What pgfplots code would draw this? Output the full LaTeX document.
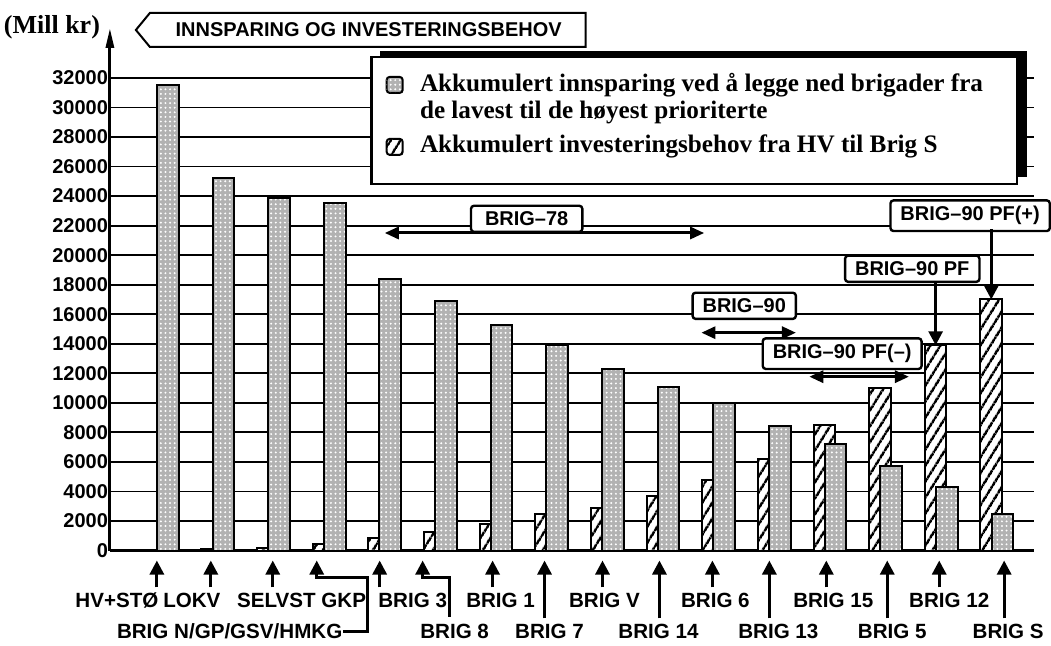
\documentclass[border=0pt]{standalone}
\usepackage{fontspec}
\setmainfont{Liberation Serif}
\setsansfont{Liberation Sans}
\usepackage{pgfplots}
\pgfplotsset{compat=1.18}
\usetikzlibrary{patterns.meta, arrows.meta}

\tikzset{
  lbl/.style={font=\sffamily\bfseries\fontsize{10.3}{12}\selectfont, inner sep=0pt},
  tag/.style={draw, line width=1.2pt, fill=white, rounded corners=1.5pt,
    font=\sffamily\bfseries\fontsize{10}{12}\selectfont, inner xsep=5pt, inner ysep=3pt},
  arr/.style={line width=1.5pt, -{Triangle[length=7pt, width=7pt]}},
  darr/.style={line width=1.5pt, {Triangle[length=7pt, width=6pt]}-{Triangle[length=7pt, width=6pt]}},
  hatchfill/.style={fill=white, postaction={pattern={Lines[angle=58, distance=4pt, line width=1.3pt]}}},
  dotfill/.style={fill=gray!60, postaction={pattern={Dots[distance=2.3pt, radius=0.55pt]}, pattern color=white}},
  px/.style={x=0.5pt, y=0.5pt, shift={(-55pt,275.5pt)}},
}

\begin{document}
\begin{tikzpicture}
\begin{scope}[px]
\path (0,0) rectangle (1051,-646);
\end{scope}

\begin{axis}[
  at={(0pt,0pt)}, anchor=south west, scale only axis,
  width=462.5pt, height=236.5pt,
  xmin=-0.94, xmax=15.67, ymin=0, ymax=32000,
  axis x line*=bottom, axis y line*=left,
  axis line style={line width=1.5pt},
  xtick=\empty,
  ytick={0,2000,...,32000},
  ymajorgrids, major grid style={black, line width=0.9pt},
  major tick length=0pt,
  scaled y ticks=false,
  yticklabel style={font=\sffamily\bfseries\fontsize{10}{12}\selectfont, inner sep=0pt, xshift=-0.8pt},
  /pgf/number format/assume math mode=true,
  /pgf/number format/1000 sep={},
  clip=false,
]
% akkumulert investeringsbehov (skravert)
\addplot[ybar, bar shift=0pt, bar width=0.39, draw=black, line width=1pt, hatchfill]
coordinates {(-0.1,50) (0.9,100) (1.9,200) (2.9,450) (3.9,850) (4.9,1250) (5.9,1800) (6.9,2450)
  (7.9,2900) (8.9,3700) (9.9,4800) (10.9,6200) (11.9,8500) (12.9,11000) (13.9,13900) (14.9,17000)};
% akkumulert innsparing (prikket)
\addplot[ybar, bar shift=0pt, bar width=0.39, draw=black, line width=1pt, dotfill]
coordinates {(0.1,31500) (1.1,25200) (2.1,23900) (3.1,23500) (4.1,18400) (5.1,16900) (6.1,15300) (7.1,13900)
  (8.1,12300) (9.1,11100) (10.1,10000) (11.1,8400) (12.1,7200) (13.1,5700) (14.1,4300) (15.1,2500)};

% brigadegrupper
\draw[darr] (axis cs:4.0,21500) -- (axis cs:9.74,21500);
\node[tag, inner xsep=7pt] at (axis cs:6.55,22460) {BRIG–78};
\draw[darr] (axis cs:9.69,14750) -- (axis cs:11.39,14750);
\node[tag] at (axis cs:10.46,16570) {BRIG–90};
\draw[darr] (axis cs:11.63,11770) -- (axis cs:13.42,11770);
\node[tag] at (axis cs:12.22,13330) {BRIG–90 PF(–)};
\node[tag] at (axis cs:13.48,19080) {BRIG–90 PF};
\draw[arr] (axis cs:13.9,18150) -- (axis cs:13.9,13900);
\node[tag] at (axis cs:14.52,22670) {BRIG–90 PF(+)};
\draw[arr] (axis cs:14.9,21740) -- (axis cs:14.9,17000);
\end{axis}

\begin{scope}[px]
% y-akse med pil
\draw[line width=1.5pt, -{Triangle[length=10pt, width=4pt]}] (110,-400) -- (110,-28);
\node[font=\bfseries\fontsize{13}{15}\selectfont, inner sep=0pt] at (52,-27) {(Mill kr)};

% tittel
\draw[line width=1pt, fill=white] (150,-13) -- (586,-13) -- (586,-47) -- (150,-47) -- (136,-30) -- cycle;
\node[font=\sffamily\bfseries\fontsize{10}{12}\selectfont, inner sep=0pt] at (369,-30) {INNSPARING OG INVESTERINGSBEHOV};

% forklaring
\fill[black] (380,-51) rectangle (1028,-177);
\draw[line width=1.2pt, fill=white] (372,-57) rectangle (1018,-184);
\draw[line width=1pt, rounded corners=1.5pt, dotfill] (387,-77) rectangle (403,-93);
\draw[line width=1pt, rounded corners=1.5pt, hatchfill] (387,-139) rectangle (403,-155);
\begin{scope}[every node/.style={font=\bfseries\fontsize{12.6}{14}\selectfont, inner sep=0pt, anchor=west}]
\node at (420,-85) {Akkumulert innsparing ved å legge ned brigader fra};
\node at (420,-113) {de lavest til de høyest prioriterte};
\node at (420,-147) {Akkumulert investeringsbehov fra HV til Brig S};
\end{scope}

% piler under aksen
\foreach \x in {157,211,273,380,493,603,713,827,940} \draw[arr] (\x,-588) -- (\x,-561);
\foreach \x in {545,660,770,888,1005} \draw[arr] (\x,-619) -- (\x,-561);
\draw[line width=1.5pt, {Triangle[length=7pt, width=7pt]}-] (317,-561) -- (317,-578) -- (368,-578) -- (368,-632) -- (343,-632);
\draw[line width=1.5pt, {Triangle[length=7pt, width=7pt]}-] (423,-561) -- (423,-578) -- (450,-578) -- (450,-618);

% navn, rad 1
\node[lbl] at (117,-601) {HV+STØ};
\node[lbl] at (192,-601) {LOKV};
\node[lbl, anchor=west] at (237,-601) {SELVST GKP};
\node[lbl] at (413,-601) {BRIG 3};
\node[lbl] at (501,-601) {BRIG 1};
\node[lbl] at (605,-601) {BRIG V};
\node[lbl] at (716,-601) {BRIG 6};
\node[lbl] at (834,-601) {BRIG 15};
\node[lbl] at (950,-601) {BRIG 12};
% navn, rad 2
\node[lbl, anchor=east] at (343,-632) {BRIG N/GP/GSV/HMKG};
\node[lbl] at (455,-632) {BRIG 8};
\node[lbl] at (550,-632) {BRIG 7};
\node[lbl] at (659,-632) {BRIG 14};
\node[lbl] at (779,-632) {BRIG 13};
\node[lbl] at (893,-632) {BRIG 5};
\node[lbl] at (1009,-632) {BRIG S};
\end{scope}
\end{tikzpicture}
\end{document}
